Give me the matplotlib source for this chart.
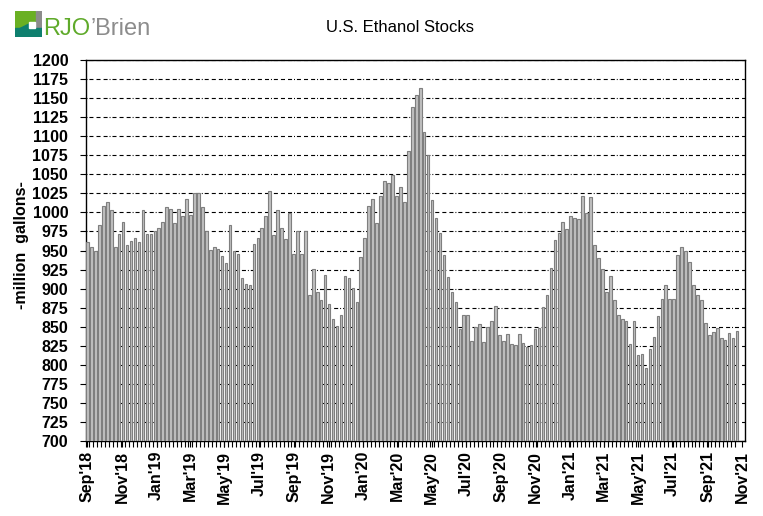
import matplotlib

matplotlib.use("Agg")
import matplotlib.pyplot as plt
import matplotlib.dates as mdates
import numpy as np
import pandas as pd
from matplotlib.patches import Rectangle, Polygon

plt.rcParams["font.family"] = ["Liberation Sans", "DejaVu Sans"]
plt.rcParams["lines.scale_dashes"] = False

# weekly US ethanol stocks, million gallons
start_week = "2018-09-01"
stocks = [
    960.5, 955, 950, 984, 1008, 1013, 1003, 955, 972, 987, 957, 962, 967, 960.5,
    1003, 971, 972, 976, 980, 987, 1006.6, 1005, 985.5, 1004, 995, 1018, 996, 1025,
    1026, 1006.6, 975, 951, 955, 952.6, 943, 934, 983, 950, 946, 914.5, 906.6, 905,
    959, 966, 980, 995, 1027.6, 970, 1003, 980, 964.5, 999, 945, 975, 945, 975,
    891, 926, 896, 885.5, 918, 880, 860.5, 851, 866, 916, 914.5, 901, 883, 942,
    966, 1009, 1018, 985.5, 1022, 1041, 1038, 1049, 1021, 1033, 1013,
    1080.5, 1138, 1153.5, 1162.8, 1106, 1075, 1016, 992, 972.5, 943.6, 914.7, 896,
    883, 846.4, 865, 865, 830.6, 850, 854, 829.4, 850, 857, 876.6, 838.6, 830.6,
    840, 826.8, 825.5, 840, 828, 822.8, 825.5, 846.4, 847.8, 875.3, 891, 926.5,
    963.3, 972.5, 987, 978, 995,
    992, 991, 1021, 998.7, 1019.7, 956.6, 940.8, 926.3, 896, 916, 885.5, 865.8,
    860.5, 858, 827.6, 858, 813, 814.6, 796, 821, 837, 864.5, 887, 905, 887, 887,
    944.7, 954, 950, 935.5, 905, 891, 885.5, 855, 839.5, 843.4, 848.7, 835.5, 833,
    842, 835.5, 844.7,
]
weeks = pd.date_range(start_week, periods=len(stocks), freq="7D")
y_ticks = list(range(700, 1201, 25))

fig = plt.figure(figsize=(7.63, 5.16), dpi=100, facecolor="white")
ax = fig.add_axes([85.5 / 763, 1 - 441 / 516, (745 - 85.5) / 763, (441 - 60) / 516])

ax.bar(weeks, np.array(stocks) - 700, bottom=700, width=4.6,
       color="#C0C0C0", edgecolor="#7F7F7F", linewidth=0.8, zorder=3)

ax.set_ylim(700, 1200)
ax.set_yticks(y_ticks)
ax.set_xlim(pd.Timestamp("2018-08-29"), pd.Timestamp("2021-11-06"))

ax.xaxis.set_major_locator(mdates.MonthLocator(bymonth=[1, 3, 5, 7, 9, 11]))
ax.xaxis.set_major_formatter(mdates.DateFormatter("%b'%y"))
ax.set_xticks(weeks - pd.Timedelta(days=3.5), minor=True)
ax.tick_params(axis="x", which="both", direction="out", length=4, width=0.8, color="black")
ax.tick_params(axis="x", which="major", pad=3, labelsize=11.5, labelrotation=90)
ax.tick_params(axis="y", direction="out", length=4.5, width=0.8, pad=8, labelsize=11.5)
for lbl in ax.get_xticklabels() + ax.get_yticklabels():
    lbl.set_fontweight("bold")

ax.set_axisbelow(True)
ax.yaxis.grid(True, color="black", linewidth=0.8,
              linestyle=(0, (0.7, 1.4, 2.9, 2.2, 2.9, 2.2, 2.9, 1.4)))
for s in ax.spines.values():
    s.set_linewidth(1.0)
    s.set_color("black")

fig.text(22 / 763, 1 - 245 / 516, "-million  gallons-", rotation=90, ha="center",
         va="center", fontsize=11.5, fontweight="bold")
fig.text(400 / 763, 1 - 27 / 516, "U.S. Ethanol Stocks", ha="center", va="center",
         fontsize=12)

# logo
lax = fig.add_axes([15 / 763, 1 - 37 / 516, 27 / 763, 26 / 516])
lax.set_xlim(0, 27)
lax.set_ylim(26, 0)
lax.axis("off")
lax.add_patch(Rectangle((0, 0), 20, 17, color="#6AB023"))
lax.add_patch(Rectangle((21, 0), 6, 17, color="#8C8C8C"))
lax.add_patch(Rectangle((0, 17), 27, 9, color="#0E7F6E"))
lax.add_patch(Polygon([(0, 26), (0, 20), (14, 13), (14, 17)], color="#0E7F6E"))
lax.add_patch(Rectangle((14, 11), 6, 6, color="white"))

rjo = fig.text(43 / 763, 1 - 40 / 516, "RJO", fontsize=17, color="#5FAA2A",
               ha="left", va="bottom")
ax.annotate("\u2019Brien", xy=(1, 0), xycoords=rjo, fontsize=17, color="#8C8C8C",
            ha="left", va="bottom", annotation_clip=False)

fig.savefig("out.png", dpi=100, facecolor="white")
